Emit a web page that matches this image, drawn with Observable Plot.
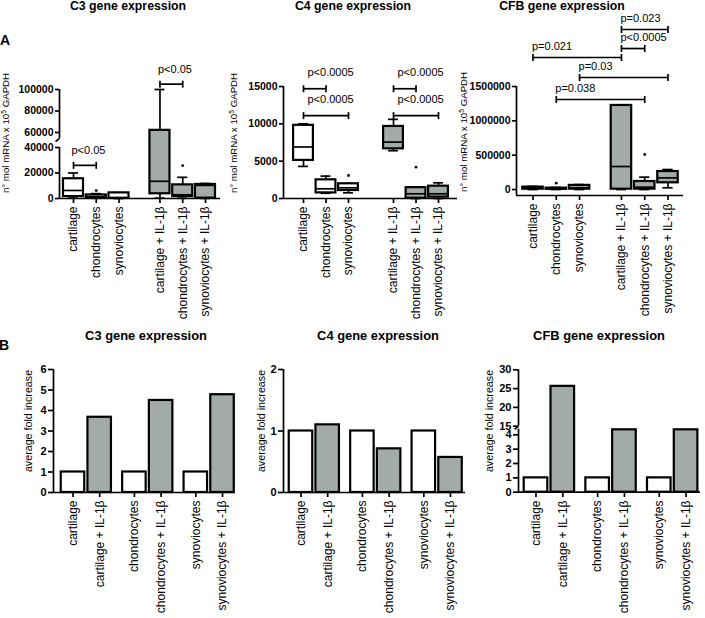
<!DOCTYPE html>
<html><head><meta charset="utf-8">
<script src="https://cdn.jsdelivr.net/npm/d3@7"></script>
<script src="https://cdn.jsdelivr.net/npm/@observablehq/plot@0.6"></script>
<style>
html,body{margin:0;padding:0;background:#fff;}
#root{position:relative;width:705px;height:618px;overflow:hidden;font-family:"Liberation Sans",Arial,sans-serif;color:#000;background:#fff;}
#root svg{position:absolute;overflow:visible;}
.t{position:absolute;white-space:nowrap;transform:translate(-50%,-50%);line-height:1;}
.r{transform:translate(-50%,-50%) rotate(-90deg);}
sup{font-size:70%;vertical-align:0.45em;line-height:0;}
</style></head><body><div id="root"></div>
<script>
// ---------- categories ----------
const GROUPS_A = ["cartilage", "chondrocytes", "synoviocytes", "cartilage + IL-1β", "chondrocytes + IL-1β", "synoviocytes + IL-1β"];
const GROUPS_B = ["cartilage", "cartilage + IL-1β", "chondrocytes", "chondrocytes + IL-1β", "synoviocytes", "synoviocytes + IL-1β"];

// ---------- Panel A: C3 box plot summaries ----------
const C3_MIN = [300, 200, 0, 300, 200, 100];
const C3_Q1  = [1500, 500, 200, 3700, 1500, 300];
const C3_MED = [6300, 1500, 500, 13500, 2900, 10300];
const C3_Q3  = [15500, 2800, 4400, 62000, 10700, 11000];
const C3_MAX = [20000, 3800, 4600, 100000, 16600, 11800];
const C3_OUT = [[], [6200], [], [], [25800], []];
const C3_TICKS = [0, 20000, 40000, 60000, 80000, 100000];
const C3_P = [
  {from: 0, to: 1, at: 26000, label: "p<0.05"},
  {from: 3, to: 4, at: 105000, label: "p<0.05"}
];

// ---------- Panel A: C4 ----------
const C4_MIN = [4300, 700, 760, 6400, 0, 0];
const C4_Q1  = [5100, 750, 1070, 6650, 40, 180];
const C4_MED = [6900, 1300, 1430, 7550, 630, 630];
const C4_Q3  = [9800, 2500, 1970, 9650, 1450, 1650];
const C4_MAX = [10000, 3000, 2000, 10600, 1500, 2100];
const C4_OUT = [[], [], [3080], [], [4200], []];
const C4_TICKS = [0, 5000, 10000, 15000];
const C4_P = [
  {from: 0, to: 1, at: 14700, label: "p<0.0005"},
  {from: 0, to: 2, at: 11100, label: "p<0.0005"},
  {from: 3, to: 4, at: 14700, label: "p<0.0005"},
  {from: 3, to: 5, at: 11100, label: "p<0.0005"}
];

// ---------- Panel A: CFB ----------
const CFB_MIN = [0, 0, 0, 0, 0, 25000];
const CFB_Q1  = [5000, 3000, 5000, 5000, 5000, 98000];
const CFB_MED = [18000, 10000, 30000, 335000, 34000, 170000];
const CFB_Q3  = [35000, 20000, 60000, 1224000, 117000, 262000];
const CFB_MAX = [45000, 30000, 72000, 1232000, 180000, 291000];
const CFB_OUT = [[], [92000], [], [], [510000], []];
const CFB_TICKS = [0, 500000, 1000000, 1500000];
const CFB_P = [
  {from: 3, to: 5, at: 2330000, label: "p=0.023"},
  {from: 3, to: 4, at: 2053000, label: "p<0.0005"},
  {from: 0, to: 3, at: 1922000, label: "p=0.021"},
  {from: 2, to: 5, at: 1631000, label: "p=0.03"},
  {from: 1, to: 4, at: 1311000, label: "p=0.038"}
];

// ---------- Panel B: average fold increase ----------
const FOLD_C3  = [1, 3.67, 1, 4.49, 1, 4.77];
const FOLD_C4  = [1, 1.10, 1, 0.71, 1, 0.57];
const FOLD_CFB = [1, 25.6, 1, 4.35, 1, 4.35];
const FOLD_C3_TICKS = [0, 1, 2, 3, 4, 5, 6];
const FOLD_C4_TICKS = [0, 1, 2];
const FOLD_CFB_TICKS = [0, 1, 2, 3, 4, 15, 20, 25, 30];

// ---------- styling ----------
const GRAY = "#a3aba8";
const FONT = "Liberation Sans, Arial, sans-serif";
const SW = 1.7;
const fmt = d3.format("d");
const root = document.getElementById("root");
const vbar = {draw(ctx, size) { const h = Math.sqrt(size / Math.PI); ctx.moveTo(0, -h); ctx.lineTo(0, h); }};
const slash = {draw(ctx, size) { const h = Math.sqrt(size / Math.PI); ctx.moveTo(0, 0); ctx.lineTo(-h, h * 0.8); }};

function place(el, left, top) { el.style.left = left + "px"; el.style.top = top + "px"; root.appendChild(el); }
function label(html, cx, cy, css, rotate) {
  const d = document.createElement("div");
  d.className = "t" + (rotate ? " r" : "");
  d.innerHTML = html;
  Object.assign(d.style, css);
  place(d, cx, cy);
}
// broken-axis helper: maps values onto a compressed display axis (the y scale's transform)
function broken(values, lengths) { return d3.scaleLinear().domain(values).range(lengths); }

function yParts(cfg) {
  if (cfg.breakAt) {
    const brk = broken(cfg.breakAt, cfg.breakLen);
    return {
      scale: {transform: brk, domain: [0, cfg.breakLen[cfg.breakLen.length - 1]], range: cfg.yRange},
      axis: {ticks: cfg.ticks.map(brk), tickFormat: d => fmt(brk.invert(d))}
    };
  }
  return {scale: {domain: cfg.yDomain, range: cfg.yRange}, axis: {ticks: cfg.ticks, tickFormat: fmt}};
}
function axisLines(cfg) {
  const lines = cfg.segments.map(([a, b]) => Plot.ruleX([a], {x: cfg.xlo, y1: a, y2: b, strokeWidth: SW}));
  const breaks = cfg.segments.slice(1).map(s => s[0]);
  if (breaks.length) lines.push(Plot.dot(breaks, {x: cfg.xlo, y: d => d, symbol: slash, r: 4, fill: "none", stroke: "black", strokeWidth: SW}));
  return lines;
}

function boxPanel(cfg) {
  const pos = GROUPS_A.map((_, i) => i < 3 ? i : i - 1 + cfg.gap);
  const nameAt = new Map(pos.map((p, i) => [p, GROUPS_A[i]]));
  const s = cfg.stats;
  const rows = GROUPS_A.map((g, i) => ({x: pos[i], min: s.min[i], q1: s.q1[i], med: s.med[i], q3: s.q3[i], max: s.max[i], treated: g.includes("IL-1β")}));
  const outl = rows.flatMap((r, i) => s.out[i].map(v => ({x: r.x, v})));
  const ends = cfg.brackets.flatMap(b => [{x: pos[b.from], y: b.at}, {x: pos[b.to], y: b.at}]);
  const W = 0.44, C = 0.22;
  const Y = yParts(cfg);
  return Plot.plot({
    width: 235, height: 330,
    marginLeft: cfg.ml, marginRight: cfg.mr, marginTop: 60, marginBottom: cfg.mb,
    x: {domain: [cfg.xlo, cfg.xhi]},
    y: Y.scale,
    style: {fontFamily: FONT, fontSize: "10px", color: "#000", background: "transparent", overflow: "visible"},
    marks: [
      Plot.ruleX(rows, {x: "x", y1: "min", y2: "q1", strokeWidth: SW}),
      Plot.ruleX(rows, {x: "x", y1: "q3", y2: "max", strokeWidth: SW}),
      Plot.ruleY(rows, {x1: r => r.x - C, x2: r => r.x + C, y: "max", strokeWidth: SW}),
      Plot.ruleY(rows, {x1: r => r.x - C, x2: r => r.x + C, y: "min", strokeWidth: SW}),
      Plot.rect(rows.filter(r => !r.treated), {x1: r => r.x - W, x2: r => r.x + W, y1: "q1", y2: "q3", fill: "white", stroke: "black", strokeWidth: 2.2}),
      Plot.rect(rows.filter(r => r.treated), {x1: r => r.x - W, x2: r => r.x + W, y1: "q1", y2: "q3", fill: GRAY, stroke: "black", strokeWidth: 2.2}),
      Plot.ruleY(rows, {x1: r => r.x - W, x2: r => r.x + W, y: "med", strokeWidth: SW}),
      Plot.dot(outl, {x: "x", y: "v", r: 1.4, fill: "black"}),
      ...axisLines(cfg),
      Plot.ruleY([cfg.floor], {x1: cfg.xlo, x2: cfg.xhi, strokeWidth: SW}),
      Plot.axisX({ticks: pos, tickFormat: d => nameAt.get(d), tickRotate: -90, tickSize: 5, tickPadding: 3, fontSize: 12, label: null, strokeWidth: SW}),
      Plot.axisY({...Y.axis, tickSize: 4, tickPadding: 2, fontSize: 10.5, fontWeight: "bold", label: null, strokeWidth: SW}),
      Plot.ruleY(cfg.brackets, {x1: b => pos[b.from], x2: b => pos[b.to], y: "at", strokeWidth: SW}),
      Plot.dot(ends, {x: "x", y: "y", symbol: vbar, r: 3.5, fill: "none", stroke: "black", strokeWidth: SW}),
      Plot.text(cfg.brackets, {x: b => pos[b.from], y: "at", text: "label", textAnchor: "start", dx: cfg.tdx, dy: cfg.tdy, fontSize: 11})
    ]
  });
}

function barPanel(cfg) {
  const pos = GROUPS_B.map((_, i) => Math.floor(i / 2) * 2.3 + (i % 2));
  const nameAt = new Map(pos.map((p, i) => [p, GROUPS_B[i]]));
  const rows = GROUPS_B.map((g, i) => ({x: pos[i], v: cfg.values[i], treated: g.includes("IL-1β")}));
  const W = 0.44;
  const Y = yParts(cfg);
  return Plot.plot({
    width: 235, height: 288,
    marginLeft: cfg.ml, marginRight: cfg.mr, marginTop: 30, marginBottom: 126,
    x: {domain: [cfg.xlo, cfg.xhi]},
    y: Y.scale,
    style: {fontFamily: FONT, fontSize: "10px", color: "#000", background: "transparent", overflow: "visible"},
    marks: [
      Plot.rect(rows.filter(r => !r.treated), {x1: r => r.x - W, x2: r => r.x + W, y1: 0, y2: "v", fill: "white", stroke: "black", strokeWidth: 2.2}),
      Plot.rect(rows.filter(r => r.treated), {x1: r => r.x - W, x2: r => r.x + W, y1: 0, y2: "v", fill: GRAY, stroke: "black", strokeWidth: 2.2}),
      ...axisLines(cfg),
      Plot.ruleY([0], {x1: cfg.xlo, x2: cfg.xhi, strokeWidth: SW}),
      Plot.axisX({ticks: pos, tickFormat: d => nameAt.get(d), tickRotate: -90, tickSize: 5, tickPadding: 3, fontSize: 12, label: null, strokeWidth: SW}),
      Plot.axisY({...Y.axis, tickSize: 5, tickPadding: 2, fontSize: 11, fontWeight: "bold", label: null, strokeWidth: SW})
    ]
  });
}

// ---------- Panel A plots ----------
const a1 = boxPanel({stats: {min: C3_MIN, q1: C3_Q1, med: C3_MED, q3: C3_Q3, max: C3_MAX, out: C3_OUT},
  gap: 1.8, ml: 59, mr: 15, mb: 132, xlo: -0.615, xhi: 6.46,
  breakAt: [0, 40000, 60000, 100000], breakLen: [0, 51, 66, 109], yRange: [198, 89], floor: 0,
  segments: [[0, 40000], [52000, 100000]], ticks: C3_TICKS, brackets: C3_P, tdx: -2, tdy: -15});
const a2 = boxPanel({stats: {min: C4_MIN, q1: C4_Q1, med: C4_MED, q3: C4_Q3, max: C4_MAX, out: C4_OUT},
  gap: 2, ml: 48, mr: 13, mb: 132, xlo: -0.889, xhi: 6.844,
  yDomain: [0, 15000], yRange: [198, 86], floor: 0,
  segments: [[0, 15000]], ticks: C4_TICKS, brackets: C4_P, tdx: 4, tdy: -16});
const a3 = boxPanel({stats: {min: CFB_MIN, q1: CFB_Q1, med: CFB_MED, q3: CFB_Q3, max: CFB_MAX, out: CFB_OUT},
  gap: 1.8, ml: 46, mr: 22, mb: 135, xlo: -0.709, xhi: 6.466,
  yDomain: [-87000, 1500000], yRange: [195, 86], floor: -87000,
  segments: [[-87000, 1500000]], ticks: CFB_TICKS, brackets: CFB_P, tdx: -1, tdy: -11});
place(a1, 0, 0); place(a2, 235, 0); place(a3, 470, 0);

// ---------- Panel B plots ----------
const b1 = barPanel({values: FOLD_C3, ml: 53, mr: 0, xlo: -0.730, xhi: 6.086,
  yDomain: [0, 6], yRange: [162, 39], segments: [[0, 6]], ticks: FOLD_C3_TICKS});
const b2 = barPanel({values: FOLD_C4, ml: 48, mr: 5, xlo: -0.655, xhi: 6.161,
  yDomain: [0, 2], yRange: [162, 39], segments: [[0, 2]], ticks: FOLD_C4_TICKS});
const b3 = barPanel({values: FOLD_CFB, ml: 48, mr: 5, xlo: -0.653, xhi: 6.138,
  breakAt: [0, 4.4, 15, 30], breakLen: [0, 63.1, 66, 122.4], yRange: [161.7, 39.3],
  segments: [[0, 4.4], [15, 30]], ticks: FOLD_CFB_TICKS});
place(b1, 0, 330); place(b2, 235, 330); place(b3, 470, 330);

// ---------- titles & labels ----------
const TA = {fontWeight: "bold", fontSize: "12.3px"};
const TB = {fontWeight: "bold", fontSize: "12.9px"};
label("C3 gene expression", 128, 6, TA);
label("C4 gene expression", 353, 6, TA);
label("CFB gene expression", 562, 6, TA);
label("C3 gene expression", 146, 336, TB);
label("C4 gene expression", 378, 336, TB);
label("CFB gene expression", 599, 336, TB);
label("A", 5, 40, {fontWeight: "bold", fontSize: "14px"});
label("B", 4, 345, {fontWeight: "bold", fontSize: "14px"});
const YA = "n° mol mRNA x 10<sup>5</sup> GAPDH";
label(YA, 6, 133, {fontSize: "9.7px"}, true);
label(YA, 234, 133, {fontSize: "9.7px"}, true);
label(YA, 464, 132, {fontSize: "9.7px"}, true);
label("average fold increase", 28, 421, {fontSize: "10.7px"}, true);
label("average fold increase", 261, 421, {fontSize: "10.7px"}, true);
label("average fold increase", 489, 421, {fontSize: "10.7px"}, true);
</script></body></html>
